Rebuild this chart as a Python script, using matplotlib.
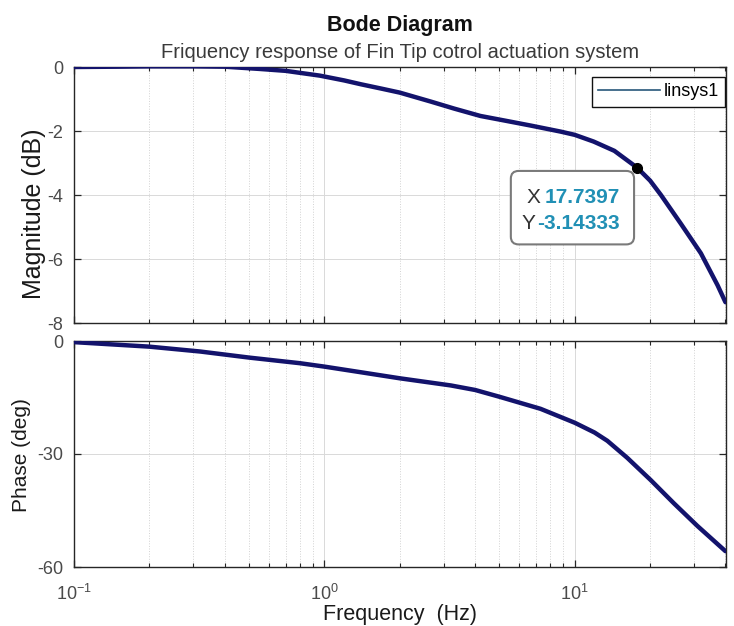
import matplotlib
matplotlib.use("Agg")
import matplotlib.pyplot as plt
from matplotlib.patches import FancyBboxPatch
from matplotlib.ticker import LogLocator, FixedLocator, FixedFormatter, NullFormatter

plt.rcParams['font.family'] = ['Liberation Sans', 'DejaVu Sans']
plt.rcParams['mathtext.fontset'] = 'custom'
plt.rcParams['mathtext.rm'] = 'Liberation Sans'
plt.rcParams['mathtext.it'] = 'Liberation Sans:italic'
plt.rcParams['mathtext.bf'] = 'Liberation Sans:bold'
plt.rcParams['axes.unicode_minus'] = False

# ---- data ----
mag_freq = [0.1, 0.15, 0.2, 0.3, 0.4, 0.55, 0.7, 0.96, 1.2, 1.4, 1.7, 2.0, 2.66, 3.3,
            4.2, 5.3, 6.67, 8.8, 10.0, 11.9, 14.4, 17.7397, 20.0, 22.1, 26.5, 31.9, 37.2, 40.0]
mag_db = [0.0, 0.01, 0.02, 0.02, 0.01, -0.06, -0.12, -0.27, -0.42, -0.54, -0.68, -0.8, -1.08, -1.3,
          -1.53, -1.68, -1.83, -2.02, -2.12, -2.33, -2.62, -3.14333, -3.55, -4.0, -4.89, -5.82, -6.82, -7.35]

ph_freq = [0.1, 0.2, 0.32, 0.5, 0.8, 1.0, 1.4, 2.0, 3.2, 4.0, 5.0, 7.3, 10.0, 12.0, 13.5,
           16.2, 20.1, 24.9, 30.9, 40.0]
ph_deg = [-0.3, -1.5, -2.8, -4.4, -5.9, -6.8, -8.3, -9.9, -11.8, -13.0, -14.8, -18.0, -21.7, -24.3, -26.5,
          -31.0, -36.9, -43.1, -49.1, -55.8]

tip_x = 17.7397
tip_y = -3.14333

mag_ticks = [0, -2, -4, -6, -8]
ph_ticks = [0, -30, -60]
x_ticks = [0.1, 1, 10]
x_ticklabels = [r'$\mathregular{10^{-1}}$', r'$\mathregular{10^{0}}$', r'$\mathregular{10^{1}}$']
series_name = 'linsys1'

# ---- figure ----
W, H = 734, 626
fig = plt.figure(figsize=(W / 100, H / 100), dpi=100)

def px_rect(l, t, r, b):
    return [l / W, 1 - b / H, (r - l) / W, (b - t) / H]

ax1 = fig.add_axes(px_rect(74, 67, 726, 323))
ax2 = fig.add_axes(px_rect(74, 341, 726, 567))

curve_col = '#13136c'
tick_col = '#4a4a4a'
for ax in (ax1, ax2):
    ax.set_xscale('log')
    ax.set_xlim(0.1, 40.2)
    ax.xaxis.set_major_locator(FixedLocator(x_ticks))
    ax.xaxis.set_minor_locator(LogLocator(base=10, subs=range(2, 10), numticks=20))
    ax.xaxis.set_minor_formatter(NullFormatter())
    ax.tick_params(which='both', direction='in', top=True, right=True, colors='#262626',
                   labelcolor=tick_col, labelsize=13)
    ax.tick_params(which='major', length=5, width=0.9)
    ax.tick_params(which='minor', length=3, width=0.8)
    ax.tick_params(axis='y', pad=8)
    ax.grid(True, which='major', color='#d9d9d9', lw=0.7, ls='-')
    ax.grid(True, which='minor', axis='x', color='#d2d2d2', lw=0.7, ls=':')
    ax.set_axisbelow(True)
    for s in ax.spines.values():
        s.set_color('#262626')
        s.set_linewidth(1.0)

# magnitude
ax1.plot(mag_freq, mag_db, color=curve_col, lw=3.2, solid_capstyle='round',
         solid_joinstyle='round', zorder=3)
ax1.set_ylim(-8, 0)
ax1.set_yticks(mag_ticks)
ax1.set_yticklabels([str(v) for v in mag_ticks])
ax1.tick_params(axis='x', labelbottom=False)
ax1.set_ylabel('Magnitude (dB)', fontsize=18, color='#1a1a1a', va='center', ha='center')
ax1.yaxis.set_label_coords(-0.061, 0.426)

# legend (proxy line in legend colour)
ax1.plot([], [], color='#27577a', lw=1.2, label=series_name)
leg = ax1.legend(handles=[ax1.lines[-1]], loc='upper right', bbox_to_anchor=(0.9985, 0.961),
                 borderaxespad=0, fancybox=False, edgecolor='#111111', framealpha=1,
                 fontsize=13, handlelength=3.4, handletextpad=0.2, borderpad=0.35)
leg.get_frame().set_linewidth(1.0)

# data tip
ax1.plot([tip_x], [tip_y], 'o', color='black', ms=7, zorder=5)
box = FancyBboxPatch((0.670, 0.307), 0.189, 0.287,
                     boxstyle='round,pad=0,rounding_size=0.012', transform=ax1.transAxes,
                     facecolor='white', edgecolor='#7a7a7a', lw=1.5, zorder=6,
                     mutation_aspect=2.5)
ax1.add_patch(box)
ax1.text(0.716, 0.469, 'X', transform=ax1.transAxes, ha='right', va='baseline',
         fontsize=15, color='#333333', zorder=7)
ax1.text(0.837, 0.469, f'{tip_x:.4f}', transform=ax1.transAxes, ha='right', va='baseline',
         fontsize=15, fontweight='bold', color='#2190b5', zorder=7)
ax1.text(0.707, 0.367, 'Y', transform=ax1.transAxes, ha='right', va='baseline',
         fontsize=15, color='#333333', zorder=7)
ax1.text(0.837, 0.367, f'{tip_y:.5f}', transform=ax1.transAxes, ha='right', va='baseline',
         fontsize=15, fontweight='bold', color='#2190b5', zorder=7)

# phase
ax2.plot(ph_freq, ph_deg, color=curve_col, lw=3.2, solid_capstyle='round',
         solid_joinstyle='round', zorder=3)
ax2.set_ylim(-60, 0)
ax2.set_yticks(ph_ticks)
ax2.set_yticklabels([str(v) for v in ph_ticks])
ax2.xaxis.set_major_formatter(FixedFormatter(x_ticklabels))
ax2.tick_params(axis='x', pad=12)
ax2.set_ylabel('Phase (deg)', fontsize=15, color='#1a1a1a', va='center', ha='center')
ax2.yaxis.set_label_coords(-0.080, 0.496)
ax2.set_xlabel('Frequency  (Hz)', fontsize=15.5, color='#1a1a1a', va='baseline')
ax2.xaxis.set_label_coords(0.5, -0.235)

# titles
fig.text(400 / W, 1 - 31 / H, 'Bode Diagram', ha='center', va='baseline',
         fontsize=15.5, fontweight='bold', color='#111111')
fig.text(400 / W, 1 - 58 / H, 'Friquency response of Fin Tip cotrol actuation system',
         ha='center', va='baseline', fontsize=14.5, color='#3a3a3a')

fig.savefig('out.png', dpi=100)
